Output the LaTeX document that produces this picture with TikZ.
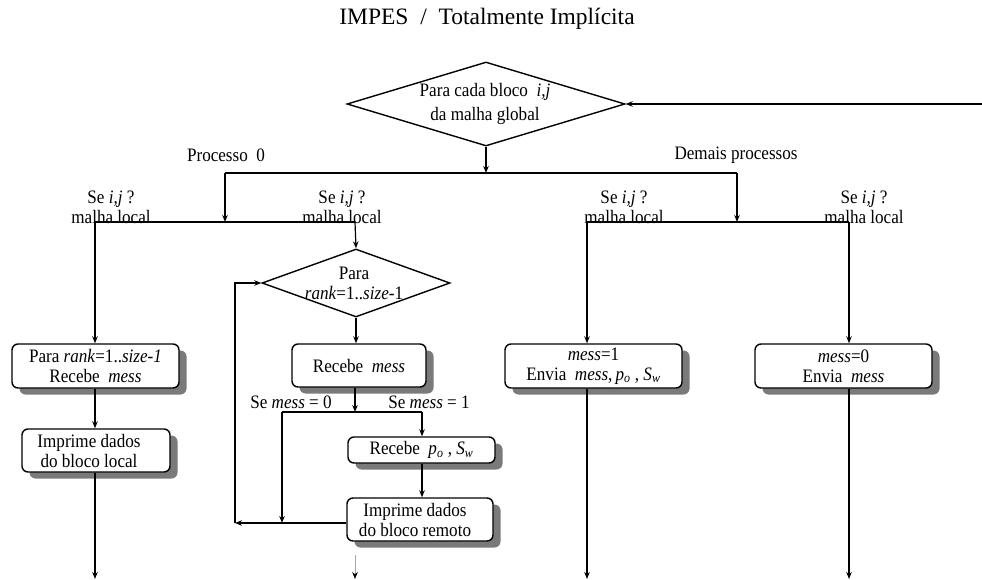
\documentclass[tikz,border=0pt]{standalone}
\usepackage{fontspec}
\setmainfont{Liberation Serif}[FakeStretch=0.9]
\newfontfamily\headfont{Liberation Serif}
\usetikzlibrary{arrows.meta,shapes.geometric,shadows}

\begin{document}
\begin{tikzpicture}[x=1pt,y=-1pt,
  line width=1.2pt,
  >={Stealth[length=7pt,width=5.5pt]},
  txt/.style={font=\fontsize{19}{20}\selectfont, align=center, inner sep=0pt},
  title/.style={font=\headfont\fontsize{23.5}{25}\selectfont, inner sep=0pt},
  procbox/.style={draw, line width=1.4pt, rounded corners=6pt, fill=white,
    inner sep=0pt, align=center, font=\fontsize{19}{20}\selectfont,
    drop shadow={shadow xshift=7.5pt, shadow yshift=-6.5pt, fill=black!52, opacity=1}},
  decision/.style={draw, diamond, line width=1.4pt, inner sep=0pt, fill=white}
]
\useasboundingbox (0,0) rectangle (982,580);

% title
\node[title] (ttl) at (487,19) {IMPES \ / \ Totalmente Implícita};

% outer loop over the global mesh
\node[decision, minimum width=278pt, minimum height=84pt] (d1) at (486,104) {};
\node[txt, font=\fontsize{19}{23.5}\selectfont] (d1t) at (485,104)
  {Para cada bloco \ \textit{i,j}\\da malha global};
\coordinate (back) at (982,104);
\draw[->] (back) -- (d1.east);

% split into process 0 and the others
\coordinate (j1) at (486,173);
\coordinate (jl) at (225,173);
\coordinate (jr) at (737,173);
\coordinate (ja) at (225,222);
\coordinate (jb) at (737,222);
\draw[->] (d1.south) -- (j1);
\draw (jl) -- (jr);
\draw[->] (jl) -- (ja);
\draw[->] (jr) -- (jb);
\node[txt] (p0) at (226,155) {Processo \ 0};
\node[txt] (pn) at (736,155) {Demais processos};

% second level branches
\coordinate (b1) at (95,222);
\coordinate (b2) at (355,222);
\coordinate (b3) at (587,222);
\coordinate (b4) at (849,222);
\draw (b1) -- (b2);
\draw (b3) -- (b4);
\node[txt] (c1) at (111,207) {Se \textit{i,j} ?\\malha local};
\node[txt] (c2) at (342,207) {Se \textit{i,j} ?\\malha local};
\node[txt] (c3) at (624,207) {Se \textit{i,j} ?\\malha local};
\node[txt] (c4) at (864,207) {Se \textit{i,j} ?\\malha local};

% process 0, local block
\node[procbox, minimum width=167pt, minimum height=44pt] (bA) at (95.5,366)
  {Para \textit{rank}=1..\textit{size-1}\\Recebe \ \textit{mess}};
\node[procbox, minimum width=148pt, minimum height=43pt] (bB) at (96,450.5)
  {Imprime dados\hspace*{14pt}\\do bloco local\hspace*{14pt}};
\coordinate (endA) at (95,579);
\draw[->] (b1) -- (b1 |- bA.north);
\draw[->] (bA.south -| b1) -- (bB.north -| b1);
\draw[->] (bB.south -| b1) -- (endA);

% process 0, remote blocks
\node[decision, minimum width=188pt, minimum height=68pt] (d2) at (356,283) {};
\node[txt] (d2t) at (354,283) {Para\\\textit{rank}=1..\textit{size}-1};
\node[procbox, minimum width=134pt, minimum height=43pt] (bC) at (359,365.5)
  {Recebe \ \textit{mess}};
\node[procbox, minimum width=147pt, minimum height=26pt] (bD) at (421.5,450)
  {Recebe \ \textit{p}\textsubscript{\textit{o}} , \textit{S}\textsubscript{\textit{w}}};
\node[procbox, minimum width=146pt, minimum height=43pt] (bE) at (420,519.5)
  {Imprime dados\hspace*{10pt}\\do bloco remoto\hspace*{10pt}};
\draw[->] (b2) -- (d2.north);
\draw[->] (d2.south) -- (d2.south |- bC.north);
\coordinate (m) at (355,412);
\coordinate (m0) at (282,412);
\coordinate (m1) at (422,412);
\coordinate (mj) at (282,523);
\coordinate (lp) at (235,523);
\draw[->] (bC.south -| m) -- (m);
\draw (m0) -- (m1);
\draw[->] (m0) -- (mj);
\draw[->] (m1) -- (m1 |- bD.north);
\draw[->] (bD.south -| m1) -- (bE.north -| m1);
\draw[->] (bE.west |- lp) -- (lp);
\draw[->] (lp) |- (d2.west);
\node[txt, anchor=base] (s0) at (291,408) {Se \textit{mess} = 0};
\node[txt, anchor=base] (s1) at (429,408) {Se \textit{mess} = 1};
\coordinate (fe) at (355,555);
\coordinate (endB) at (355,579);
\draw[black!35, line width=0.6pt, -{Stealth[length=7pt,width=5.5pt,black]}] (fe) -- (endB);

% other processes
\node[procbox, minimum width=177pt, minimum height=44pt] (bF) at (593.5,366)
  {\textit{mess}=1\\Envia \ \textit{mess},\,\textit{p}\textsubscript{\textit{o}} , \textit{S}\textsubscript{\textit{w}}};
\node[procbox, minimum width=177pt, minimum height=44pt] (bG) at (843.5,366)
  {\textit{mess}=0\\Envia \ \textit{mess}};
\coordinate (endF) at (587,579);
\coordinate (endG) at (849,579);
\draw[->] (b3) -- (b3 |- bF.north);
\draw[->] (b4) -- (b4 |- bG.north);
\draw[->] (bF.south -| b3) -- (endF);
\draw[->] (bG.south -| b4) -- (endG);
\end{tikzpicture}
\end{document}
